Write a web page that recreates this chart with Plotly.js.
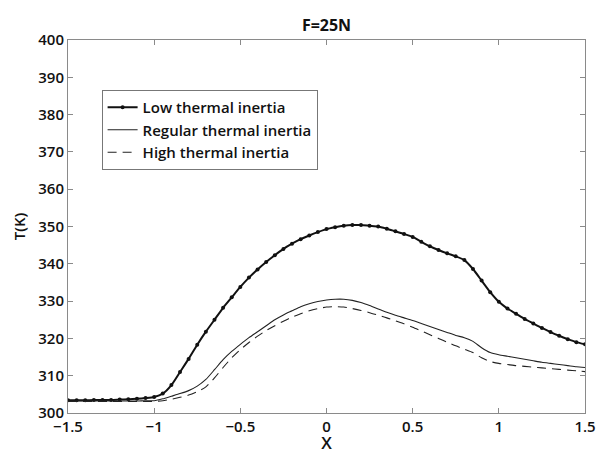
<!DOCTYPE html>
<html>
<head>
<meta charset="utf-8">
<script src="https://cdn.plot.ly/plotly-3.0.1.min.js"></script>
<style>html,body{margin:0;padding:0;background:#fff;}#chart{width:603px;height:454px;}</style>
</head>
<body>
<div id="chart"></div>
<script>
const xValues = [-1.5,-1.45,-1.4,-1.35,-1.3,-1.25,-1.2,-1.15,-1.1,-1.05,-1.0,-0.95,-0.9,-0.85,-0.8,-0.75,-0.7,-0.65,-0.6,-0.55,-0.5,-0.45,-0.4,-0.35,-0.3,-0.25,-0.2,-0.15,-0.1,-0.05,0,0.05,0.1,0.15,0.2,0.25,0.3,0.35,0.4,0.45,0.5,0.55,0.6,0.65,0.7,0.75,0.8,0.85,0.9,0.95,1.0,1.05,1.1,1.15,1.2,1.25,1.3,1.35,1.4,1.45,1.5];

const lowInertia = [303.4,303.4,303.4,303.5,303.5,303.5,303.6,303.7,303.8,304.0,304.3,305.2,307.5,311.0,314.5,318.3,321.8,325.0,328.2,331.0,333.8,336.3,338.5,340.5,342.3,344.0,345.4,346.6,347.6,348.5,349.3,349.8,350.2,350.4,350.4,350.2,350.0,349.4,348.7,348.0,347.2,345.9,344.7,343.7,342.8,342.0,341.0,338.6,335.5,332.4,329.8,328.0,326.6,325.2,324.0,322.8,321.7,320.7,319.8,319.0,318.4];

const regularInertia = [303.2,303.2,303.2,303.2,303.2,303.2,303.2,303.2,303.2,303.3,303.3,303.8,304.5,305.2,306.0,307.2,309.0,311.6,314.3,316.5,318.4,320.2,321.8,323.4,325.0,326.3,327.4,328.5,329.3,329.9,330.3,330.5,330.5,330.2,329.6,328.8,327.9,327.0,326.2,325.5,324.8,324.0,323.2,322.4,321.6,320.8,320.2,319.2,317.5,316.2,315.6,315.2,314.8,314.4,314.0,313.6,313.3,313.0,312.7,312.4,312.2];

const highInertia = [303.1,303.1,303.1,303.1,303.1,303.1,303.1,303.1,303.1,303.1,303.1,303.3,303.7,304.2,304.8,305.7,307.0,309.4,312.2,314.8,317.0,318.9,320.6,322.1,323.4,324.6,325.7,326.6,327.4,328.0,328.4,328.5,328.4,328.0,327.5,326.9,326.2,325.5,324.7,323.9,323.0,322.0,321.0,320.0,319.0,318.0,317.1,316.2,314.8,313.8,313.3,313.0,312.7,312.5,312.3,312.1,311.9,311.7,311.5,311.3,311.1];

const seriesNames = ["Low thermal inertia","Regular thermal inertia","High thermal inertia"];
const xTicks = [-1.5,-1,-0.5,0,0.5,1,1.5];
const xTickText = ["\u22121.5","\u22121","\u22120.5","0","0.5","1","1.5"];
const yTicks = [300,310,320,330,340,350,360,370,380,390,400];

const FONT = "Open Sans, Noto Sans, sans-serif";

const traces = [
  {x:xValues, y:lowInertia, name:seriesNames[0], type:"scatter", mode:"lines+markers",
   line:{color:"#111", width:2, shape:"spline", smoothing:0.6}, marker:{color:"#111", size:4}},
  {x:xValues, y:regularInertia, name:seriesNames[1], type:"scatter", mode:"lines",
   line:{color:"#222", width:1.1, shape:"spline", smoothing:0.6}},
  {x:xValues, y:highInertia, name:seriesNames[2], type:"scatter", mode:"lines",
   line:{color:"#222", width:1.1, dash:"9px,6px", shape:"spline", smoothing:0.6}}
];

const axisCommon = {
  showline:true, mirror:"ticks", linecolor:"#8a8a8a", linewidth:1,
  ticks:"inside", ticklen:5, tickcolor:"#8a8a8a", tickwidth:1,
  showgrid:false, zeroline:false,
  tickfont:{family:FONT, size:15, color:"#111", weight:600}
};

const layout = {
  width:603, height:454,
  margin:{l:68, r:18, t:40, b:41},
  paper_bgcolor:"#fff", plot_bgcolor:"#fff",
  showlegend:true,
  title:{text:"F=25N", x:0.5, xref:"paper", xanchor:"center", yref:"paper", y:1, yanchor:"bottom",
         pad:{b:9},
         font:{family:FONT, size:16, color:"#111", weight:700}},
  xaxis:Object.assign({}, axisCommon, {
    range:[-1.5,1.5], tickvals:xTicks, ticktext:xTickText, ticklabelstandoff:0,
    title:{text:"X", standoff:1, font:{family:FONT, size:17, color:"#111", weight:600}}
  }),
  yaxis:Object.assign({}, axisCommon, {
    range:[300,400], tickvals:yTicks,
    title:{text:"T(K)", standoff:9, font:{family:FONT, size:15, color:"#111", weight:600}}
  }),
  legend:{x:0.065, y:0.866, xanchor:"left", yanchor:"top",
          bgcolor:"#fff", bordercolor:"#777", borderwidth:1,
          font:{family:FONT, size:15, color:"#111", weight:600}}
};

Plotly.newPlot("chart", traces, layout, {staticPlot:true, displayModeBar:false});
</script>
</body>
</html>
